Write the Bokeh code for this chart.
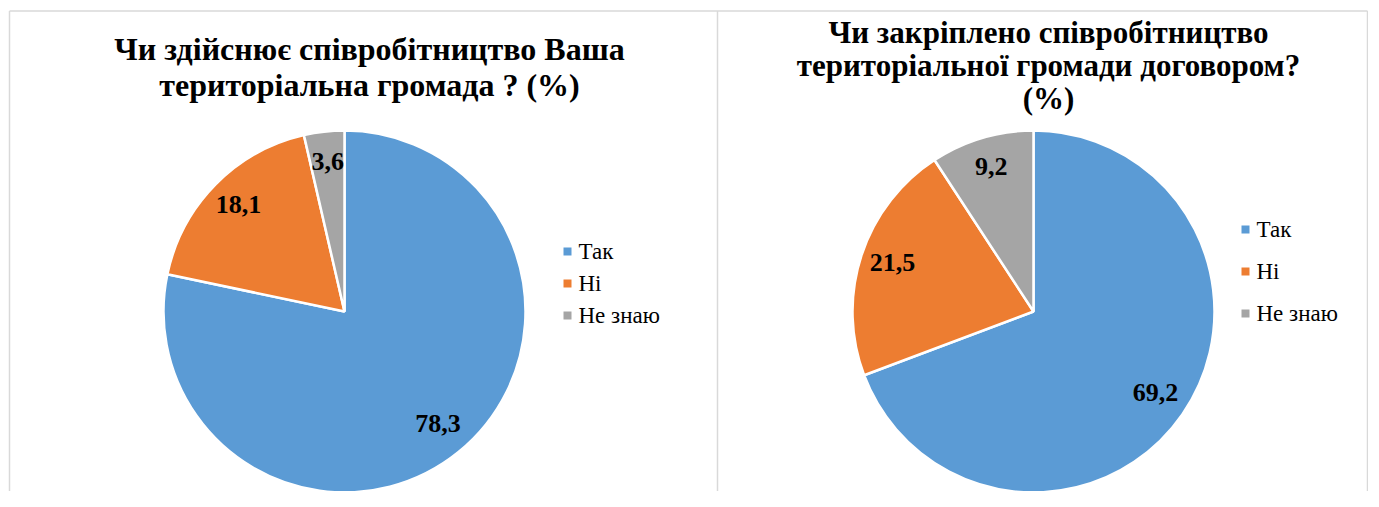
import math
from bokeh.plotting import figure
from bokeh.models import Range1d, ColumnDataSource
from bokeh.core.properties import value
from bokeh.embed import file_html
from bokeh.resources import INLINE

# ---- data ----
categories = ["Так", "Ні", "Не знаю"]
left_values = [78.3, 18.1, 3.6]
right_values = [69.2, 21.5, 9.2]
left_title = ["Чи здійснює співробітництво Ваша", "територіальна громада ? (%)"]
right_title = ["Чи закріплено співробітництво", "територіальної громади договором?", "(%)"]
colors = ["#5B9BD5", "#ED7D31", "#A5A5A5"]

W, H = 1368, 491

p = figure(width=W, height=H, output_backend="svg", toolbar_location=None,
           x_range=Range1d(0, W), y_range=Range1d(0, H),
           x_axis_type=None, y_axis_type=None, min_border=0)
p.grid.visible = False
p.outline_line_color = None


def sy(s):
    return H - s

# panel borders
bc = "#D9D9D9"
p.line([9, 1367], [sy(10.5), sy(10.5)], line_color=bc, line_width=1.5)
for bx in (9, 717, 1367):
    p.line([bx, bx], [sy(10.5), sy(500)], line_color=bc, line_width=1.5)


def draw_pie(cx, cy_screen, r, vals, title_lines, title_x, title_base, title_step, title_size,
             leg_x, leg_y0, leg_step):
    cy = sy(cy_screen)
    total = sum(vals)
    cum = 0.0
    starts, ends, lx, ly, labels = [], [], [], [], []
    for v in vals:
        f0 = cum / total
        f1 = (cum + v) / total
        cum += v
        starts.append(math.pi / 2 - 2 * math.pi * f1)
        ends.append(math.pi / 2 - 2 * math.pi * f0)
        mid = 2 * math.pi * (f0 + f1) / 2
        d = 0.82 * r
        lx.append(cx + math.sin(mid) * d)
        ly.append(cy + math.cos(mid) * d + 3)
        labels.append(f"{v:.1f}".replace(".", ","))
    src = ColumnDataSource(dict(start=starts, end=ends, color=colors,
                                x=[cx] * len(vals), y=[cy] * len(vals)))
    p.wedge(x="x", y="y", radius=r, start_angle="start", end_angle="end",
            fill_color="color", line_color="white", line_width=2.5, source=src)
    p.text(x=lx, y=ly, text=labels, text_font=value("Liberation Serif"), text_font_style="bold",
           text_font_size="26px", text_align="center", text_baseline="middle")
    # title
    tys = [sy(title_base + i * title_step) for i in range(len(title_lines))]
    p.text(x=[title_x] * len(title_lines), y=tys, text=title_lines,
           text_font=value("Liberation Serif"),
           text_font_style="bold", text_font_size=title_size, text_align="center",
           text_baseline="alphabetic")
    # legend
    ys = [sy(leg_y0 + i * leg_step) for i in range(len(categories))]
    p.scatter(x=[leg_x] * len(categories), y=ys, marker="square", size=8,
              fill_color=colors, line_color=None)
    p.text(x=[leg_x + 11] * len(categories), y=ys, text=categories,
           text_font=value("Liberation Serif"),
           text_font_size="23px", text_align="left", text_baseline="middle")


draw_pie(344, 311, 181, left_values, left_title, 369, 48, 36, "32px", 567, 251, 32)
draw_pie(1033, 311, 181, right_values, right_title, 1048, 32, 33, "31px", 1245, 229, 42)

open("out.html", "w").write(file_html(p, INLINE))
